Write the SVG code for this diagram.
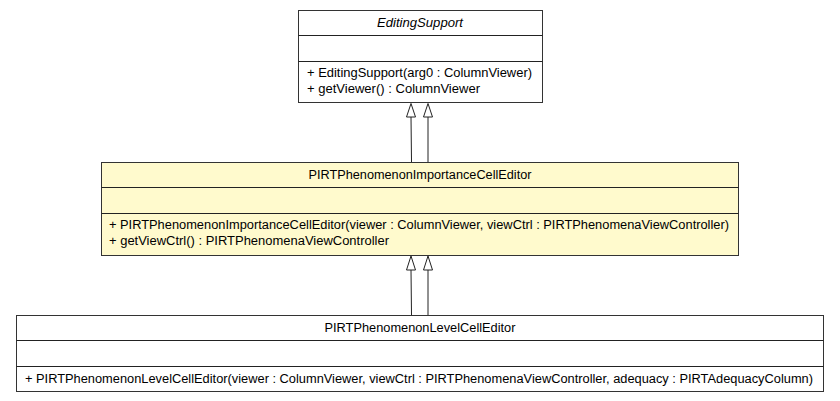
<svg xmlns="http://www.w3.org/2000/svg" width="840" height="401" viewBox="0 0 840 401">
<style>
  .box { stroke: #333; stroke-width: 1; }
  .plain { fill: #ffffff; }
  .hl { fill: #fffacd; }
  .div { stroke: #222; stroke-width: 1.2; fill: none; }
  text { font-family: "Liberation Sans", Arial, sans-serif; font-size: 12px; fill: #000; }
  .title { text-anchor: middle; }
  .edge { stroke: #222; stroke-width: 1; fill: none; }
  .head { stroke: #222; stroke-width: 1; fill: #fff; }
</style>
<rect width="840" height="401" fill="#fff"/>
<g id="connectors">
  <line class="edge" x1="411" y1="117" x2="411.5" y2="162"/>
  <polygon class="head" points="411,103.5 406.5,117 415.5,117"/>
  <line class="edge" x1="428" y1="117" x2="428" y2="162"/>
  <polygon class="head" points="428,103.5 423.5,117 432.5,117"/>
  <line class="edge" x1="411" y1="270" x2="411.5" y2="315"/>
  <polygon class="head" points="411,256 406.5,270 415.5,270"/>
  <line class="edge" x1="428" y1="270" x2="428" y2="315"/>
  <polygon class="head" points="428,256 423.5,270 432.5,270"/>
</g>
<g id="EditingSupport">
  <rect class="box plain" x="298.5" y="10.5" width="244" height="92"/>
  <line class="div" x1="298.5" y1="35.5" x2="542.5" y2="35.5"/>
  <line class="div" x1="298.5" y1="61.5" x2="542.5" y2="61.5"/>
  <text class="title" x="420" y="27" font-style="italic" textLength="86" lengthAdjust="spacingAndGlyphs">EditingSupport</text>
  <text x="307" y="77" textLength="225" lengthAdjust="spacingAndGlyphs">+ EditingSupport(arg0 : ColumnViewer)</text>
  <text x="307" y="93" textLength="173" lengthAdjust="spacingAndGlyphs">+ getViewer() : ColumnViewer</text>
</g>
<g id="PIRTPhenomenonImportanceCellEditor">
  <rect class="box hl" x="101.5" y="162.5" width="637" height="93"/>
  <line class="div" x1="101.5" y1="187.5" x2="738.5" y2="187.5"/>
  <line class="div" x1="101.5" y1="213.5" x2="738.5" y2="213.5"/>
  <text class="title" x="420" y="179" textLength="223" lengthAdjust="spacingAndGlyphs">PIRTPhenomenonImportanceCellEditor</text>
  <text x="109" y="229" textLength="620" lengthAdjust="spacingAndGlyphs">+ PIRTPhenomenonImportanceCellEditor(viewer : ColumnViewer, viewCtrl : PIRTPhenomenaViewController)</text>
  <text x="109" y="245" textLength="280" lengthAdjust="spacingAndGlyphs">+ getViewCtrl() : PIRTPhenomenaViewController</text>
</g>
<g id="PIRTPhenomenonLevelCellEditor">
  <rect class="box plain" x="16.5" y="315.5" width="807" height="76"/>
  <line class="div" x1="16.5" y1="340.5" x2="823.5" y2="340.5"/>
  <line class="div" x1="16.5" y1="366.5" x2="823.5" y2="366.5"/>
  <text class="title" x="420" y="332" textLength="191" lengthAdjust="spacingAndGlyphs">PIRTPhenomenonLevelCellEditor</text>
  <text x="25" y="383" textLength="788" lengthAdjust="spacingAndGlyphs">+ PIRTPhenomenonLevelCellEditor(viewer : ColumnViewer, viewCtrl : PIRTPhenomenaViewController, adequacy : PIRTAdequacyColumn)</text>
</g>
</svg>
